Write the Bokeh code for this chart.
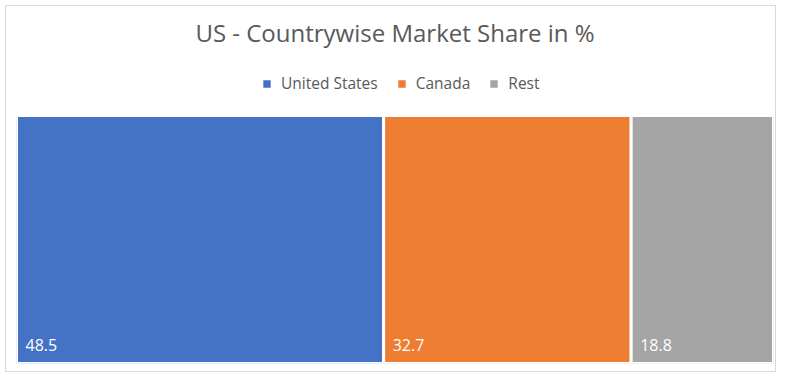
from bokeh.plotting import figure
from bokeh.models import Range1d, ColumnDataSource, Title
from bokeh.core.properties import value
from bokeh.embed import file_html
from bokeh.resources import INLINE

countries = ["United States", "Canada", "Rest"]
shares = [48.5, 32.7, 18.8]
colors = ["#4472C4", "#ED7D31", "#A5A5A5"]
labels = ["48.5", "32.7", "18.8"]

lefts = []
acc = 0.0
for s in shares:
    lefts.append(acc)
    acc += s
rights = [l + s for l, s in zip(lefts, shares)]

src = ColumnDataSource(dict(name=countries, left=lefts, right=rights,
                            bottom=[0] * 3, top=[1] * 3, color=colors, label=labels))

p = figure(width=771, height=367, output_backend="svg", toolbar_location=None,
           x_range=Range1d(0, 100), y_range=Range1d(0, 1.25),
           min_border_left=10, min_border_right=4, min_border_top=47, min_border_bottom=10)
p.styles = {"border": "1px solid #d9d9d9", "margin": "5px 0px 0px 5px"}
p.axis.visible = False
p.grid.visible = False
p.outline_line_color = None
p.background_fill_color = "white"
p.border_fill_color = "white"

p.quad(left="left", right="right", bottom="bottom", top="top", fill_color="color",
       line_color="white", line_width=3, source=src, legend_field="name")

p.text(x="left", y="bottom", text="label", source=src, x_offset=9, y_offset=-19,
       text_color="white", text_font=value("Open Sans"), text_font_size="16px",
       text_baseline="alphabetic", text_align="left")

p.title = Title(text="US - Countrywise Market Share in %", align="center",
                text_font="Open Sans", text_font_size="24px", text_font_style="normal",
                text_color="#595959")

lg = p.legend[0]
lg.orientation = "horizontal"
lg.location = (244, 269)
lg.border_line_color = None
lg.background_fill_alpha = 0
lg.padding = 0
lg.margin = 0
lg.glyph_width = 13
lg.glyph_height = 13
lg.label_standoff = 8
lg.spacing = 17
lg.label_text_font = "Open Sans"
lg.label_text_font_size = "15.5px"
lg.label_text_color = "#595959"
lg.label_height = 13

open("out.html", "w").write(file_html(p, INLINE))
